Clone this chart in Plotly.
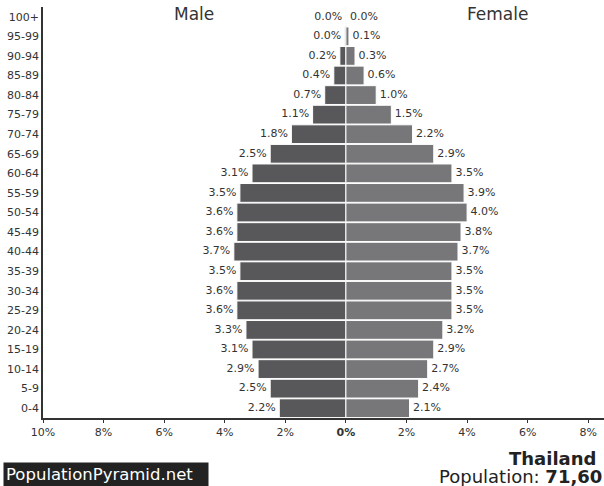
import plotly.graph_objects as go

ages = ["0-4", "5-9", "10-14", "15-19", "20-24", "25-29", "30-34", "35-39", "40-44", "45-49",
        "50-54", "55-59", "60-64", "65-69", "70-74", "75-79", "80-84", "85-89", "90-94", "95-99", "100+"]
male = [2.2, 2.5, 2.9, 3.1, 3.3, 3.6, 3.6, 3.5, 3.7, 3.6, 3.6, 3.5, 3.1, 2.5, 1.8, 1.1, 0.7, 0.4, 0.2, 0.04, 0.01]
female = [2.1, 2.4, 2.7, 2.9, 3.2, 3.5, 3.5, 3.5, 3.7, 3.8, 4.0, 3.9, 3.5, 2.9, 2.2, 1.5, 1.0, 0.6, 0.3, 0.1, 0.02]
tick_vals = [-10, -8, -6, -4, -2, 0, 2, 4, 6, 8]
tick_text = ["10%", "8%", "6%", "4%", "2%", "<b>0%</b>", "2%", "4%", "6%", "8%"]

male_neg = [-v for v in male]
male_lbl = [f"{v:.1f}%\u00a0" for v in male]
female_lbl = [f"\u00a0{v:.1f}%" for v in female]

L, T, B, W, H = 43, 7, 68, 604, 486
PW = W - L
PH = H - T - B


def px_x(x):
    return (x - L) / PW


def px_y(y):
    return (H - B - y) / PH


fig = go.Figure()
fig.add_trace(go.Bar(y=ages, x=male_neg, orientation="h", marker=dict(color="#58585b", line=dict(color="white", width=1)),
                     hoverinfo="skip", showlegend=False))
fig.add_trace(go.Bar(y=ages, x=female, orientation="h", marker=dict(color="#77777a", line=dict(color="white", width=1)),
                     hoverinfo="skip", showlegend=False))
fig.add_trace(go.Scatter(y=ages, x=male_neg, mode="text", text=male_lbl, textposition="middle left",
                         textfont=dict(family="DejaVu Sans", size=11, color="#333"), showlegend=False, hoverinfo="skip"))
fig.add_trace(go.Scatter(y=ages, x=female, mode="text", text=female_lbl, textposition="middle right",
                         textfont=dict(family="DejaVu Sans", size=11, color="#333"), showlegend=False, hoverinfo="skip"))

fig.update_layout(
    width=W, height=H,
    margin=dict(l=L, r=0, t=T, b=B),
    paper_bgcolor="white", plot_bgcolor="white",
    barmode="relative", bargap=0.04,
    font=dict(family="DejaVu Sans", size=11, color="#333"),
    xaxis=dict(range=[-10, 8.52], tickvals=tick_vals, ticktext=tick_text, showgrid=False, zeroline=False,
               showline=True, linecolor="#333", linewidth=1.5, ticks="outside", ticklen=3, tickcolor="#333",
               tickfont=dict(size=11, color="#333"), automargin=False),
    yaxis=dict(categoryorder="array", categoryarray=ages, range=[-0.5, 20.5], showgrid=False, zeroline=False,
               showline=True, linecolor="#333", linewidth=1.5, ticks="", tickfont=dict(size=11, color="#333"),
               automargin=False),
    annotations=[
        dict(text="Male", x=-5, xref="x", y=px_y(14), yref="paper", showarrow=False, font=dict(size=17, color="#333"),
             xanchor="center", yanchor="middle"),
        dict(text="Female", x=5, xref="x", y=px_y(14), yref="paper", showarrow=False, font=dict(size=17, color="#333"),
             xanchor="center", yanchor="middle"),
        dict(text="PopulationPyramid.net", x=px_x(3), xref="paper", xanchor="left", y=px_y(462), yref="paper",
             yanchor="top", showarrow=False, font=dict(size=16.5, color="white"), bgcolor="#222", borderpad=2,
             width=200, height=36, align="left", valign="top"),
        dict(text="<b>Thailand</b>", x=px_x(598), showarrow=False, xref="paper", y=px_y(458), yref="paper",
             xanchor="right", yanchor="middle", font=dict(size=18, color="#222")),
        dict(text="Population: <b>71,601,103</b>", x=px_x(437), showarrow=False, xref="paper", y=px_y(476),
             yref="paper", xanchor="left", yanchor="middle", font=dict(size=18, color="#222")),
    ],
)
fig.write_html("out.html", config={"displayModeBar": False},
               post_script="document.body.style.margin='0';document.body.style.overflow='hidden';")
